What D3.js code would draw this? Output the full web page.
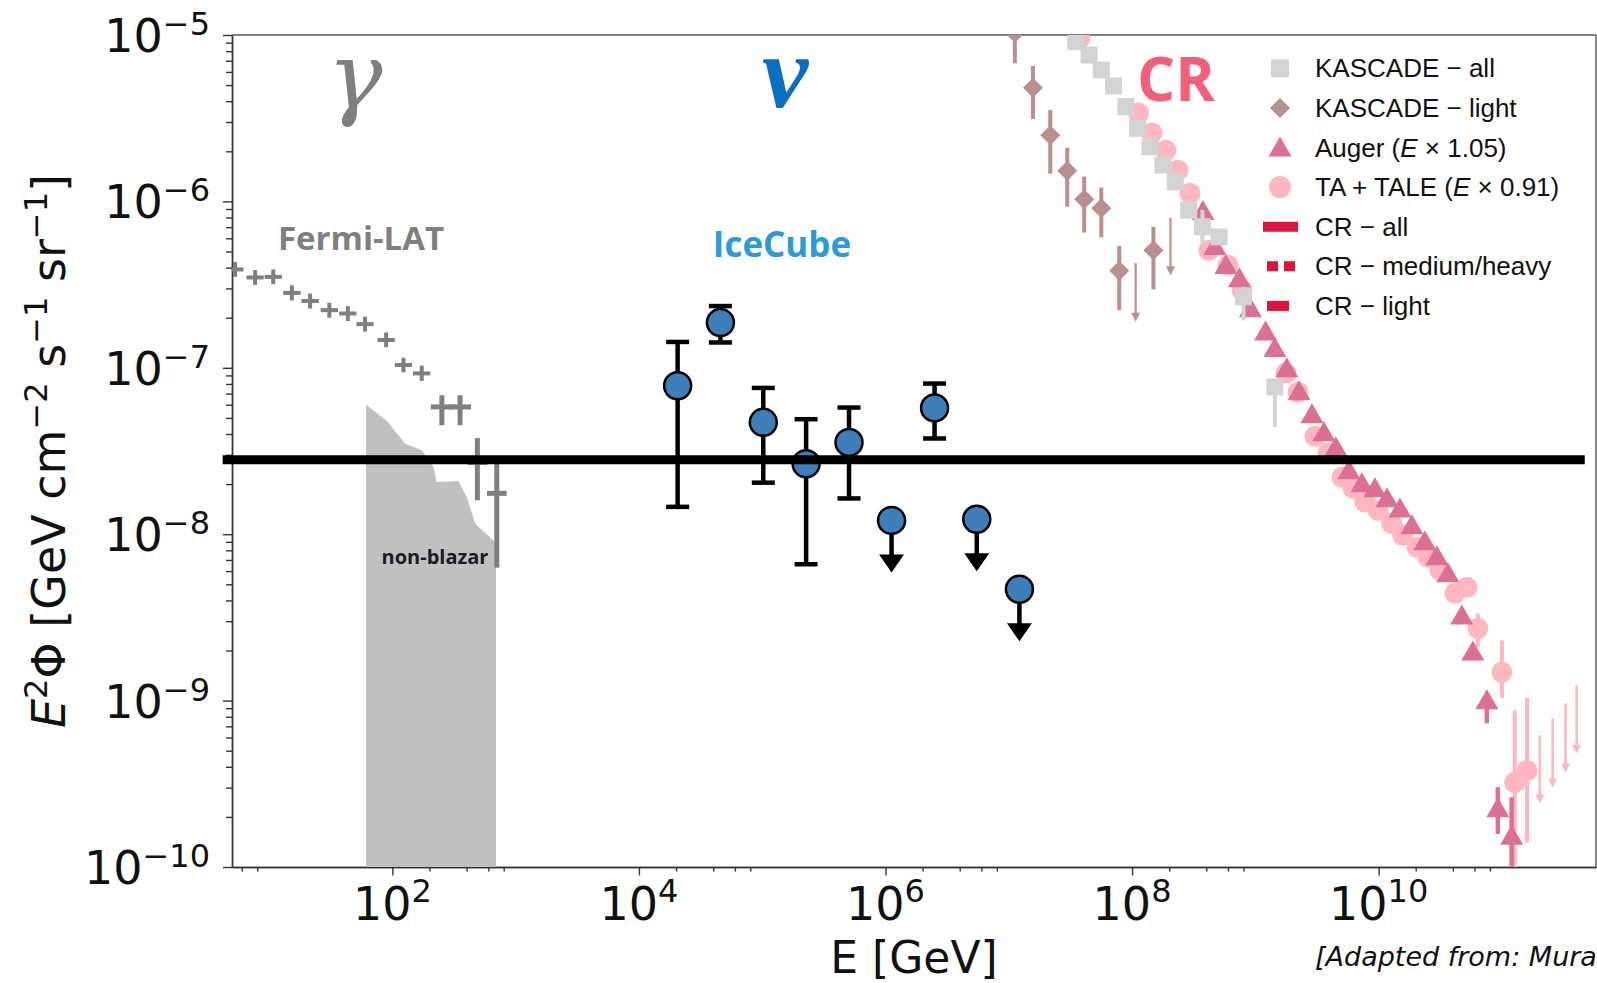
<!DOCTYPE html>
<html>
<head>
<meta charset="utf-8">
<script src="https://cdn.jsdelivr.net/npm/d3@7"></script>
<style>
body { margin: 0; background: #fff; }
svg { display: block; }
</style>
</head>
<body>
<div id="chart"></div>
<script>
// values (E in GeV, E^2 Phi in GeV cm^-2 s^-1 sr^-1)

// Fermi-LAT diffuse gamma points
const fermiE   = [5.3, 7.7, 10.8, 15.3, 21.5, 30.8, 43.5, 60, 89, 123, 173, 252, 354, 489, 703];
const fermiElo = [4.5, 6.55, 9.2, 13.0, 18.3, 26.2, 37.0, 51.1, 75.7, 104.7, 147, 205, 288, 407, 585];
const fermiEhi = [6.2, 9.05, 12.7, 18.0, 25.3, 36.2, 51.1, 70.5, 104.6, 144.5, 203, 310, 435, 588, 845];
const fermiV   = [3.9e-7, 3.49e-7, 3.52e-7, 2.82e-7, 2.52e-7, 2.22e-7, 2.12e-7, 1.83e-7, 1.47e-7, 1.04e-7, 9.25e-8, 5.82e-8, 5.82e-8, 2.7e-8, 1.76e-8];
const fermiLo  = [3.52e-7, 3.15e-7, 3.18e-7, 2.54e-7, 2.27e-7, 2.0e-7, 1.91e-7, 1.65e-7, 1.33e-7, 0.94e-7, 8.34e-8, 4.52e-8, 4.52e-8, 1.6e-8, 6.3e-9];
const fermiHi  = [4.32e-7, 3.87e-7, 3.90e-7, 3.13e-7, 2.79e-7, 2.46e-7, 2.35e-7, 2.03e-7, 1.63e-7, 1.15e-7, 1.03e-7, 6.84e-8, 6.84e-8, 3.78e-8, 2.7e-8];

// non-blazar band outline
const bandE = [61.2, 61.2, 90, 127, 173, 215, 229, 343, 401, 469, 681, 693, 693];
const bandV = [1e-10, 6.0e-8, 4.8e-8, 3.5e-8, 3.2e-8, 2.54e-8, 2.06e-8, 2.09e-8, 1.67e-8, 1.16e-8, 8.97e-9, 8.9e-9, 1e-10];

// IceCube
const icE  = [2.06e4, 4.58e4, 1.02e5, 2.27e5, 5.06e5, 2.5e6];
const icV  = [7.8e-8, 1.87e-7, 4.7e-8, 2.65e-8, 3.56e-8, 5.74e-8];
const icLo = [1.46e-8, 1.42e-7, 2.04e-8, 6.6e-9, 1.64e-8, 3.76e-8];
const icHi = [1.43e-7, 2.35e-7, 7.57e-8, 4.91e-8, 5.77e-8, 8.04e-8];
const icUlE = [1.12e6, 5.5e6, 1.22e7];
const icUlV = [1.21e-8, 1.23e-8, 4.67e-9];

// KASCADE light
const klE  = [1.12e7, 1.57e7, 2.17e7, 2.98e7, 4.09e7, 5.63e7, 7.87e7, 1.49e8];
const klV  = [1.03e-5, 4.82e-6, 2.5e-6, 1.53e-6, 1.03e-6, 9.08e-7, 3.83e-7, 5.09e-7];
const klLo = [6.76e-6, 3.13e-6, 1.47e-6, 9.3e-7, 6.5e-7, 6.08e-7, 2.22e-7, 2.96e-7];
const klHi = [1.5e-5, 6.52e-6, 3.54e-6, 2.1e-6, 1.41e-6, 1.21e-6, 5.41e-7, 7.03e-7];
const klUlE   = [1.07e8, 2.05e8];
const klUlTop = [4.26e-7, 7.94e-7];
const klUlTip = [1.89e-7, 3.6e-7];

// KASCADE all
const kaE  = [3.49e7, 4.48e7, 5.63e7, 7.08e7, 8.89e7, 1.11e8, 1.40e8, 1.78e8, 2.24e8, 2.88e8, 3.72e8, 5.08e8, 8.02e8, 1.44e9];
const kaV  = [9.12e-6, 7.58e-6, 6.16e-6, 4.94e-6, 3.71e-6, 2.75e-6, 2.13e-6, 1.65e-6, 1.31e-6, 8.87e-7, 7.04e-7, 6.12e-7, 2.67e-7, 7.67e-8];
const kaLo = [9.12e-6, 7.58e-6, 6.16e-6, 4.94e-6, 3.71e-6, 2.75e-6, 2.13e-6, 1.65e-6, 1.31e-6, 8.87e-7, 5.6e-7, 6.12e-7, 1.93e-7, 4.41e-8];
const kaHi = [9.12e-6, 7.58e-6, 6.16e-6, 4.94e-6, 3.71e-6, 2.75e-6, 2.13e-6, 1.65e-6, 1.31e-6, 8.87e-7, 8.9e-7, 6.12e-7, 3.07e-7, 8.5e-8];

// TA + TALE
const taE  = [3.77e7, 1.13e8, 1.45e8, 1.88e8, 2.36e8, 2.95e8, 4.2e8, 6.0e8, 7.8e8, 1.77e9, 2.22e9, 3.04e9, 3.88e9, 5.05e9,
              6.2e9, 7.75e9, 9.9e9, 1.28e10, 1.57e10, 2.05e10, 2.51e10, 3.14e10, 4.16e10, 5.2e10, 6.38e10, 1.0e11, 1.27e11, 1.6e11];
const taV  = [9.55e-6, 3.4e-6, 2.58e-6, 2.03e-6, 1.54e-6, 1.12e-6, 5.09e-7, 4.14e-7, 2.93e-7, 9.29e-8, 7.13e-8, 3.88e-8, 3.07e-8, 2.2e-8,
              1.89e-8, 1.56e-8, 1.39e-8, 1.16e-8, 9.85e-9, 8.34e-9, 7.26e-9, 6.07e-9, 4.42e-9, 4.8e-9, 2.72e-9, 1.48e-9, 3.22e-10, 3.8e-10];
const taLo = [9.55e-6, 3.4e-6, 2.58e-6, 2.03e-6, 1.54e-6, 1.12e-6, 5.09e-7, 4.14e-7, 2.93e-7, 9.29e-8, 7.13e-8, 3.88e-8, 3.07e-8, 2.2e-8,
              1.89e-8, 1.56e-8, 1.39e-8, 1.16e-8, 9.85e-9, 8.34e-9, 7.26e-9, 6.07e-9, 4.42e-9, 4.8e-9, 2.09e-9, 1.04e-9, 9e-11, 1.4e-10];
const taHi = [9.55e-6, 3.4e-6, 2.58e-6, 2.03e-6, 1.54e-6, 1.12e-6, 5.09e-7, 4.14e-7, 2.93e-7, 9.29e-8, 7.13e-8, 3.88e-8, 3.07e-8, 2.2e-8,
              1.89e-8, 1.56e-8, 1.39e-8, 1.16e-8, 9.85e-9, 8.34e-9, 7.26e-9, 6.07e-9, 4.42e-9, 4.8e-9, 3.34e-9, 2.3e-9, 8.73e-10, 1.04e-9];
const taUlE   = [2.03e11, 2.58e11, 3.29e11, 4.04e11];
const taUlTop = [6.18e-10, 7.82e-10, 9.62e-10, 1.23e-9];
const taUlTip = [2.41e-10, 3.0e-10, 3.7e-10, 4.8e-10];

// Auger
const augE = [3.76e8, 4.7e8, 5.77e8, 7.43e8, 9.12e8, 1.21e9, 1.44e9, 1.8e9, 2.26e9, 2.88e9, 3.6e9, 4.5e9, 5.74e9,
              7.32e9, 9.33e9, 1.17e10, 1.49e10, 1.86e10, 2.37e10, 2.97e10, 3.65e10, 4.73e10, 5.81e10, 7.55e10, 9.27e10, 1.2e11];
const augV = [8.51e-7, 5.24e-7, 4.03e-7, 3.36e-7, 2.22e-7, 1.61e-7, 1.28e-7, 9.68e-8, 7.03e-8, 5.11e-8, 3.99e-8, 3.24e-8, 2.36e-8,
              1.97e-8, 1.84e-8, 1.6e-8, 1.39e-8, 1.1e-8, 8.82e-9, 7.16e-9, 5.66e-9, 3.16e-9, 1.92e-9, 9.76e-10, 2.19e-10, 1.5e-10];
const augLo = [8.51e-7, 5.24e-7, 4.03e-7, 3.36e-7, 2.22e-7, 1.61e-7, 1.28e-7, 9.68e-8, 7.03e-8, 5.11e-8, 3.99e-8, 3.24e-8, 2.36e-8,
               1.97e-8, 1.84e-8, 1.6e-8, 1.39e-8, 1.1e-8, 8.82e-9, 7.16e-9, 5.66e-9, 3.16e-9, 1.92e-9, 7.3e-10, 1.58e-10, 9e-11];
const augHi = [8.51e-7, 5.24e-7, 4.03e-7, 3.36e-7, 2.22e-7, 1.61e-7, 1.28e-7, 9.68e-8, 7.03e-8, 5.11e-8, 3.99e-8, 3.24e-8, 2.36e-8,
               1.97e-8, 1.84e-8, 1.6e-8, 1.39e-8, 1.1e-8, 8.82e-9, 7.16e-9, 5.66e-9, 3.16e-9, 1.92e-9, 9.76e-10, 3.02e-10, 2.63e-10];

// flat black reference line
const flatE = [4.2, 4.7e11];
const flatV = 2.8e-8;

// ticks
const xMajor = [1e2, 1e4, 1e6, 1e8, 1e10];
const xMajorExp = ["2", "4", "6", "8", "10"];
const xMinor = [6, 8, 200, 400, 600, 800, 2e4, 4e4, 6e4, 8e4, 2e6, 4e6, 6e6, 8e6, 2e8, 4e8, 6e8, 8e8, 2e10, 4e10, 6e10, 8e10];
const yMajor = [1e-10, 1e-9, 1e-8, 1e-7, 1e-6, 1e-5];
const yMajorExp = ["\u221210", "\u22129", "\u22128", "\u22127", "\u22126", "\u22125"];

const legendNames = ["KASCADE \u2212 all", "KASCADE \u2212 light", "Auger", "TA + TALE", "CR \u2212 all", "CR \u2212 medium/heavy", "CR \u2212 light"];

const W = 1597, H = 983;
const plot = {left: 232, right: 1596, top: 35, bottom: 867};

const x = d3.scaleLog().domain([5.0, 5.8e11]).range([plot.left, plot.right]);
const y = d3.scaleLog().domain([1e-10, 1e-5]).range([plot.bottom, plot.top]);

const svg = d3.select("#chart").append("svg")
    .attr("width", W).attr("height", H)
    .style("font-family", "'DejaVu Sans', sans-serif");
svg.append("rect").attr("width", W).attr("height", H).attr("fill", "#fff");

svg.append("clipPath").attr("id", "clip")
  .append("rect")
    .attr("x", plot.left).attr("y", plot.top)
    .attr("width", plot.right - plot.left).attr("height", plot.bottom - plot.top);

// rich text helper: parts with superscripts / italics
function rich(sel, parts, supSize, rise) {
    let shift = 0;
    parts.forEach(p => {
        const t = sel.append("tspan").text(p.t);
        const target = p.sup ? -rise : 0;
        if (target - shift !== 0) t.attr("dy", target - shift);
        shift = target;
        if (p.sup) t.attr("font-size", supSize);
        if (p.it) t.attr("font-style", "italic");
    });
}

// ---- axes ----
const axisCol = "#333";
const gx = svg.append("g").attr("transform", `translate(0,${plot.bottom})`);
gx.call(d3.axisBottom(x).tickValues(xMinor).tickSize(4.5).tickFormat("").tickSizeOuter(0));
gx.call(g => g.append("g").call(d3.axisBottom(x).tickValues(xMajor).tickSize(8.5).tickFormat("").tickSizeOuter(0)));
gx.selectAll("path.domain").attr("stroke", axisCol).attr("stroke-width", 1.4);
gx.selectAll(".tick line").attr("stroke", axisCol).attr("stroke-width", 1.4);

const yMinor = [];
[1e-10, 1e-9, 1e-8, 1e-7, 1e-6].forEach(d => [2, 3, 4, 5, 6, 7, 8, 9].forEach(k => yMinor.push(k * d)));
const gy = svg.append("g").attr("transform", `translate(${plot.left},0)`);
gy.call(d3.axisLeft(y).tickValues(yMinor).tickSize(6).tickFormat("").tickSizeOuter(0));
gy.call(g => g.append("g").call(d3.axisLeft(y).tickValues(yMajor).tickSize(9).tickFormat("").tickSizeOuter(0)));
gy.selectAll("path.domain").attr("stroke", axisCol).attr("stroke-width", 1.4);
gy.selectAll(".tick line").attr("stroke", axisCol).attr("stroke-width", 1.4);

// top and right spines
svg.append("line").attr("x1", plot.left).attr("x2", plot.right).attr("y1", plot.top).attr("y2", plot.top)
    .attr("stroke", "#555").attr("stroke-width", 1.4);
svg.append("line").attr("x1", plot.right).attr("x2", plot.right).attr("y1", plot.top).attr("y2", plot.bottom)
    .attr("stroke", "#555").attr("stroke-width", 1.4);

// tick labels
xMajor.forEach((v, i) => {
    const t = svg.append("text").attr("x", x(v)).attr("y", 920)
        .attr("text-anchor", "middle").attr("font-size", 46).attr("fill", "#111");
    rich(t, [{t: "10"}, {t: xMajorExp[i], sup: true}], 32, 18);
});
yMajor.forEach((v, i) => {
    const t = svg.append("text").attr("x", 210).attr("y", y(v) + 17)
        .attr("text-anchor", "end").attr("font-size", 46).attr("fill", "#111");
    rich(t, [{t: "10"}, {t: yMajorExp[i], sup: true}], 32, 17);
});

// axis titles
svg.append("text").attr("x", (plot.left + plot.right) / 2).attr("y", 973)
    .attr("text-anchor", "middle").attr("font-size", 44).attr("fill", "#111")
    .text("E [GeV]");
const yl = svg.append("text").attr("transform", `translate(65,${(plot.top + plot.bottom) / 2}) rotate(-90)`)
    .attr("text-anchor", "middle").attr("font-size", 46).attr("fill", "#111");
rich(yl, [{t: "E", it: true}, {t: "2", sup: true}, {t: "\u03a6 [GeV cm"}, {t: "\u22122", sup: true},
          {t: " s"}, {t: "\u22121", sup: true}, {t: " sr"}, {t: "\u22121", sup: true}, {t: "]"}], 32, 18);

// ---- data layer ----
const layer = svg.append("g").attr("clip-path", "url(#clip)");

// non-blazar band
layer.append("path")
    .datum(bandE.map((e, i) => [e, bandV[i]]))
    .attr("d", d3.line().x(d => x(d[0])).y(d => y(d[1])))
    .attr("fill", "#c0c0c0");

// Fermi-LAT crosses
const fermiCol = "#7f7f7f";
fermiE.forEach((e, i) => {
    const w = i >= 11 ? 5 : 4;
    layer.append("line").attr("x1", x(fermiElo[i])).attr("x2", x(fermiEhi[i]))
        .attr("y1", y(fermiV[i])).attr("y2", y(fermiV[i]))
        .attr("stroke", fermiCol).attr("stroke-width", w);
    layer.append("line").attr("x1", x(e)).attr("x2", x(e))
        .attr("y1", y(fermiLo[i])).attr("y2", y(fermiHi[i]))
        .attr("stroke", fermiCol).attr("stroke-width", w);
});

// TA + TALE
const taCol = "#ffb6c1";
taE.forEach((e, i) => {
    if (taLo[i] !== taHi[i]) {
        layer.append("line").attr("x1", x(e)).attr("x2", x(e))
            .attr("y1", y(taLo[i])).attr("y2", y(taHi[i]))
            .attr("stroke", taCol).attr("stroke-width", 4);
    }
});
layer.selectAll("circle.ta").data(taE).join("circle").attr("class", "ta")
    .attr("cx", d => x(d)).attr("cy", (d, i) => y(taV[i])).attr("r", 10.5)
    .attr("fill", taCol);

function ulArrow(g, e, top, tip, col, w, head) {
    const xx = x(e), y0 = y(top), y1 = y(tip);
    g.append("line").attr("x1", xx).attr("x2", xx).attr("y1", y0).attr("y2", y1 - head * 0.8)
        .attr("stroke", col).attr("stroke-width", w);
    g.append("path")
        .attr("d", `M${xx - head / 2},${y1 - head} L${xx + head / 2},${y1 - head} L${xx},${y1} Z`)
        .attr("fill", col);
}
taUlE.forEach((e, i) => ulArrow(layer, e, taUlTop[i], taUlTip[i], taCol, 2.5, 9));

// Auger
const augCol = "#db7093";
augE.forEach((e, i) => {
    if (augLo[i] !== augHi[i]) {
        layer.append("line").attr("x1", x(e)).attr("x2", x(e))
            .attr("y1", y(augLo[i])).attr("y2", y(augHi[i]))
            .attr("stroke", augCol).attr("stroke-width", 4.5);
    }
});
const triPath = "M0,-13 L11.5,7 L-11.5,7 Z";
layer.selectAll("path.aug").data(augE).join("path").attr("class", "aug")
    .attr("d", triPath)
    .attr("transform", (d, i) => `translate(${x(d)},${y(augV[i])})`)
    .attr("fill", augCol);

// KASCADE all
const kaCol = "#d3d3d3";
kaE.forEach((e, i) => {
    if (kaLo[i] !== kaHi[i]) {
        layer.append("line").attr("x1", x(e)).attr("x2", x(e))
            .attr("y1", y(kaLo[i])).attr("y2", y(kaHi[i]))
            .attr("stroke", kaCol).attr("stroke-width", 4);
    }
});
layer.selectAll("rect.ka").data(kaE).join("rect").attr("class", "ka")
    .attr("x", d => x(d) - 8.5).attr("y", (d, i) => y(kaV[i]) - 8.5)
    .attr("width", 17).attr("height", 17).attr("fill", kaCol);

// KASCADE light
const klCol = "#bc8f8f";
klE.forEach((e, i) => {
    layer.append("line").attr("x1", x(e)).attr("x2", x(e))
        .attr("y1", y(klLo[i])).attr("y2", y(klHi[i]))
        .attr("stroke", klCol).attr("stroke-width", 4);
});
const diaPath = "M0,-10 L10,0 L0,10 L-10,0 Z";
layer.selectAll("path.kl").data(klE).join("path").attr("class", "kl")
    .attr("d", diaPath)
    .attr("transform", (d, i) => `translate(${x(d)},${y(klV[i])})`)
    .attr("fill", klCol);
klUlE.forEach((e, i) => ulArrow(layer, e, klUlTop[i], klUlTip[i], klCol, 2.2, 9));

// IceCube
const icFill = "#3d80b9";
icE.forEach((e, i) => {
    const xx = x(e);
    layer.append("line").attr("x1", xx).attr("x2", xx)
        .attr("y1", y(icLo[i])).attr("y2", y(icHi[i]))
        .attr("stroke", "#000").attr("stroke-width", 4.5);
    [icLo[i], icHi[i]].forEach(v => {
        layer.append("line").attr("x1", xx - 11.5).attr("x2", xx + 11.5)
            .attr("y1", y(v)).attr("y2", y(v))
            .attr("stroke", "#000").attr("stroke-width", 4.5);
    });
});
icUlE.forEach((e, i) => {
    const xx = x(e), yy = y(icUlV[i]);
    layer.append("line").attr("x1", xx).attr("x2", xx).attr("y1", yy).attr("y2", yy + 38)
        .attr("stroke", "#000").attr("stroke-width", 4.5);
    layer.append("path")
        .attr("d", `M${xx - 12.5},${yy + 34} L${xx + 12.5},${yy + 34} L${xx},${yy + 52} Z`)
        .attr("fill", "#000");
});
layer.selectAll("circle.ic").data(icE.concat(icUlE)).join("circle").attr("class", "ic")
    .attr("cx", d => x(d))
    .attr("cy", (d, i) => i < icE.length ? y(icV[i]) : y(icUlV[i - icE.length]))
    .attr("r", 13.5)
    .attr("fill", icFill).attr("stroke", "#000").attr("stroke-width", 2.5);

// thick black reference line (drawn on top, extends past the left spine)
svg.append("line")
    .attr("x1", x(flatE[0])).attr("x2", x(flatE[1]))
    .attr("y1", y(flatV)).attr("y2", y(flatV))
    .attr("stroke", "#000").attr("stroke-width", 9);

// ---- annotations ----
svg.append("text").attr("x", 355).attr("y", 108).attr("text-anchor", "middle")
    .attr("font-family", "'DejaVu Serif', serif").attr("font-style", "italic")
    .attr("font-size", 92).attr("fill", "#7f7f7f").text("\u03b3");
svg.append("text").attr("x", 785).attr("y", 107).attr("text-anchor", "middle")
    .attr("font-family", "'Liberation Serif', serif").attr("font-style", "italic").attr("font-weight", "bold")
    .attr("font-size", 104).attr("fill", "#0a6fc2").text("\u03bd");
svg.append("text").attr("x", 1176).attr("y", 101).attr("text-anchor", "middle")
    .attr("font-family", "'Open Sans', sans-serif").attr("font-weight", "bold")
    .attr("font-size", 60).attr("fill", "#f25f78").text("CR");

svg.append("text").attr("x", 361).attr("y", 250).attr("text-anchor", "middle")
    .attr("font-family", "'Open Sans', sans-serif").attr("font-weight", "bold")
    .attr("font-size", 33).attr("fill", "#7f7f7f").text("Fermi-LAT");
svg.append("text").attr("x", 782).attr("y", 257).attr("text-anchor", "middle")
    .attr("font-family", "'Open Sans', sans-serif").attr("font-weight", "bold")
    .attr("font-size", 35).attr("fill", "#2b9ad9").text("IceCube");
svg.append("text").attr("x", 435).attr("y", 564).attr("text-anchor", "middle")
    .attr("font-family", "'Open Sans', sans-serif").attr("font-weight", "bold")
    .attr("font-size", 20).attr("fill", "#1a1a2a").text("non-blazar");

svg.append("text").attr("x", 1315).attr("y", 966)
    .attr("font-family", "'DejaVu Sans', sans-serif").attr("font-style", "italic")
    .attr("font-size", 27).attr("fill", "#111").text("[Adapted from: Mura");

// ---- legend ----
const lg = svg.append("g").attr("font-family", "'Liberation Sans', Arial, sans-serif")
    .attr("font-size", 26).attr("fill", "#111");
const lgX = 1280, lgT = 1315, lgY0 = 68.3, lgDy = 39.6;
const crCol = "#dc143c";
legendNames.forEach((name, i) => {
    const cy = lgY0 + i * lgDy;
    if (i === 0) lg.append("rect").attr("x", lgX - 9).attr("y", cy - 9).attr("width", 18).attr("height", 18).attr("fill", kaCol);
    if (i === 1) lg.append("path").attr("d", diaPath).attr("transform", `translate(${lgX},${cy})`).attr("fill", klCol);
    if (i === 2) lg.append("path").attr("d", triPath).attr("transform", `translate(${lgX},${cy + 2})`).attr("fill", augCol);
    if (i === 3) lg.append("circle").attr("cx", lgX).attr("cy", cy).attr("r", 11).attr("fill", taCol);
    if (i === 4) lg.append("line").attr("x1", lgX - 17).attr("x2", lgX + 18).attr("y1", cy).attr("y2", cy)
        .attr("stroke", crCol).attr("stroke-width", 10);
    if (i === 5) lg.append("line").attr("x1", lgX - 13).attr("x2", lgX + 16).attr("y1", cy).attr("y2", cy)
        .attr("stroke", crCol).attr("stroke-width", 10).attr("stroke-dasharray", "11,6");
    if (i === 6) lg.append("line").attr("x1", lgX - 13).attr("x2", lgX + 9).attr("y1", cy).attr("y2", cy)
        .attr("stroke", crCol).attr("stroke-width", 10);
    const t = lg.append("text").attr("x", lgT).attr("y", cy + 9);
    if (i === 2) {
        rich(t, [{t: "Auger ("}, {t: "E", it: true}, {t: " \u00d7 1.05)"}], 26, 0);
    } else if (i === 3) {
        rich(t, [{t: "TA + TALE ("}, {t: "E", it: true}, {t: " \u00d7 0.91)"}], 26, 0);
    } else {
        t.text(name);
    }
});
</script>
</body>
</html>
